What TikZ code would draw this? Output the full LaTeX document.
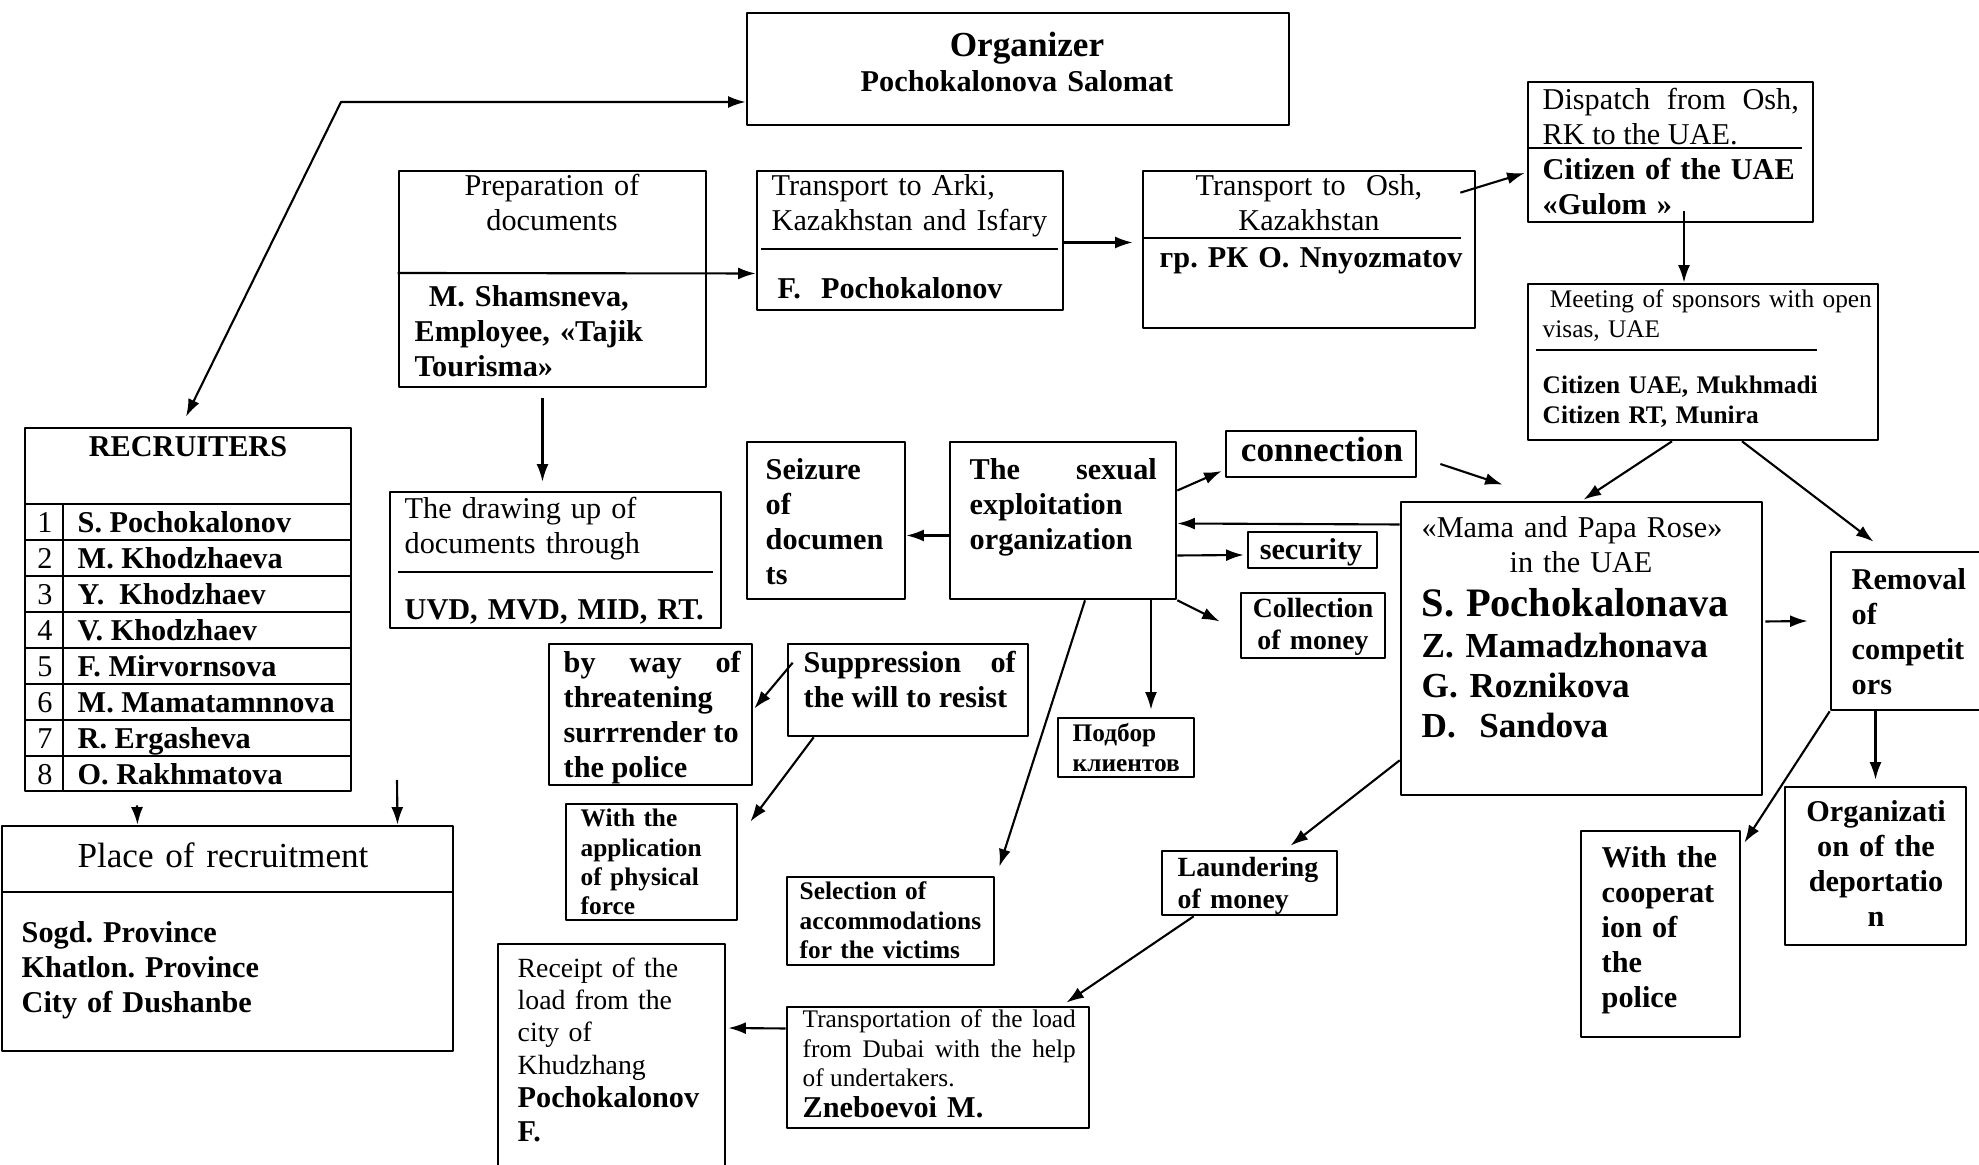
\documentclass[tikz,border=0pt]{standalone}
\usepackage{fontspec}
\setmainfont{Liberation Serif}
\usetikzlibrary{arrows.meta,calc,fit}
\frenchspacing
\newcommand\sTen{\fontsize{7.2}{8.3}\selectfont}
\newcommand\sEl{\fontsize{7.9}{9.1}\selectfont}
\newcommand\sTw{\fontsize{8.6}{9.9}\selectfont}
\newcommand\sFt{\fontsize{10}{11.4}\selectfont}
\newcommand\sSx{\fontsize{11.5}{13.2}\selectfont}
\tikzset{
	box/.style={draw, line width=0.75pt, inner sep=0pt},
	txt/.style={anchor=base west, inner sep=0pt, align=left},
	ctxt/.style={anchor=base, inner sep=0pt, align=center},
	jtxt/.style={anchor=base west, inner sep=0pt, align=justify},
	link/.style={->, line width=0.6pt},
}
\begin{document}
\begin{tikzpicture}[x=0.01cm, y=-0.01cm, >={Latex[length=5pt,width=3.4pt]}, font=\sTw, line join=round]
		\useasboundingbox (0,0) rectangle (1979,1165);
		% boxes
		\node[box, fit={(747,13) (1289,125)}] (org) {};
		\node[box, fit={(399,171) (706,387)}] (prep) {};
		\node[box, fit={(757,171) (1063,310)}] (arki) {};
		\node[box, fit={(1143,171) (1475,328)}] (osh) {};
		\node[box, fit={(1528,82) (1813,222)}] (disp) {};
		\node[box, fit={(1528,284) (1878,440)}] (meet) {};
		\node[box, fit={(25,428) (351,791)}] (rec) {};
		\node[box, fit={(2,826) (453,1051)}] (place) {};
		\node[box, fit={(390,492) (721,628)}] (drw) {};
		\node[box, fit={(747,442) (905,599)}] (seiz) {};
		\node[box, fit={(950,442) (1176,599)}] (sex) {};
		\node[box, fit={(1226,431) (1416,477)}] (conn) {};
		\node[box, fit={(1248,532) (1377,568)}] (sec) {};
		\node[box, fit={(1241,593) (1385,658)}] (coll) {};
		\node[box, fit={(1401,502) (1762,795)}] (mama) {};
		\node[box, fit={(1831,552) (1990,710)}] (rem) {};
		\node[box, fit={(1785,787) (1966,945)}] (dep) {};
		\node[box, fit={(1581,831) (1740,1037)}] (coop) {};
		\node[box, fit={(1162,851) (1337,915)}] (laund) {};
		\node[box, fit={(1058,718) (1194,777)}] (podb) {};
		\node[box, fit={(787,877) (994,965)}] (sel) {};
		\node[box, fit={(549,644) (752,785)}] (way) {};
		\node[box, fit={(788,644) (1028,736)}] (supp) {};
		\node[box, fit={(566,804) (737,920)}] (appl) {};
		\node[box, fit={(498,944) (725,1180)}] (rcpt) {};
		\node[box, fit={(787,1007) (1089,1128)}] (trans) {};
		% dividers
		\draw[line width=0.7pt] (761,249) -- (1058,249) (1143,238) -- (1461,238) (1528,148) -- (1802,148)
			(1536,350) -- (1817,350) (398,572) -- (713,572) (2,892) -- (453,892) (63,504) -- (63,791);
		% texts
		\node[ctxt, text width=4cm, font=\sFt\bfseries] (org-t) at (1027,57) {Organizer};
		\node[ctxt, text width=4cm, font=\sTw\bfseries] (org-n) at (1017,92) {Pochokalonova Salomat};
		\node[ctxt, text width=2.8cm] (prep-t) at (552,196) {Preparation of\\documents};
		\node[txt, text width=2.8cm, font=\sTw\bfseries] (prep-n) at (414,307) {\hspace*{4pt}M. Shamsneva,\\Employee, «Tajik\\Tourisma»};
		\node[txt, text width=2.9cm] (arki-t) at (771,196) {Transport to Arki,\\Kazakhstan and Isfary};
		\node[txt, text width=2.9cm, font=\sTw\bfseries] (arki-n) at (777,299) {F.\ \ Pochokalonov};
		\node[ctxt, text width=3.1cm] (osh-t) at (1309,196) {Transport to\ \ Osh,\\Kazakhstan};
		\node[txt, text width=3.1cm, font=\sTw\bfseries] (osh-n) at (1159,268) {гр. РК О. Nnyozmatov};
		\node[jtxt, text width=2.56cm] (disp-t) at (1542,110) {Dispatch from Osh,\linebreak RK to the UAE.};
		\node[txt, text width=2.6cm, font=\sTw\bfseries] (disp-n) at (1542,180) {Citizen of the UAE\\«Gulom »};
		\node[txt, text width=3.3cm, font=\sTen] (meet-t) at (1542,308) {\hspace*{2pt}Meeting of sponsors with open\\visas, UAE};
		\node[txt, text width=3.3cm, font=\sTen\bfseries] (meet-n) at (1542,394) {Citizen UAE, Mukhmadi\\Citizen RT, Munira};
		\node[ctxt, text width=3cm, font=\sTw\bfseries] (rec-t) at (188,457) {RECRUITERS};
		\foreach \i/\nm in {1/S. Pochokalonov, 2/M. Khodzhaeva, 3/Y.\ \ Khodzhaev, 4/V. Khodzhaev, 5/F. Mirvornsova, 6/M. Mamatamnnova, 7/R. Ergasheva, 8/O. Rakhmatova} {
			\draw[line width=0.7pt] (25,{468+36*\i}) -- (351,{468+36*\i});
			\node[ctxt] (rec-n\i) at (45,{497+36*\i}) {\i};
			\node[txt, font=\sTw\bfseries] (rec-\i) at (77,{497+36*\i}) {\nm};
		}
		\node[ctxt, text width=4cm, font=\sFt] (place-t) at (223,868) {Place of recruitment};
		\node[txt, text width=4cm, font=\sTw\bfseries] (place-n) at (21,943) {Sogd. Province\\Khatlon. Province\\City of Dushanbe};
		\node[txt, text width=3.2cm] (drw-t) at (404,519) {The drawing up of\\documents through};
		\node[txt, text width=3.2cm, font=\sTw\bfseries] (drw-n) at (404,620) {UVD, MVD, MID, RT.};
		\node[txt, text width=1.4cm, font=\sTw\bfseries] (seiz-t) at (765,480) {Seizure\\of\\documen\\ts};
		\node[jtxt, text width=1.87cm, font=\sTw\bfseries] (sex-t) at (969,480) {The sexual\linebreak exploitation\\organization};
		\node[ctxt, text width=1.8cm, font=\sFt\bfseries] (conn-t) at (1322,462) {connection};
		\node[ctxt, text width=1.2cm, font=\sTw\bfseries] (sec-t) at (1311,560) {security};
		\node[ctxt, text width=1.4cm, font=\sEl\bfseries] (coll-t) at (1313,618) {Collection\\of money};
		\node[txt, text width=3.3cm] (mama-t) at (1421,538) {«Mama and Papa Rose»};
		\node[ctxt, text width=3.3cm] (mama-u) at (1581,573) {in the UAE};
		\node[txt, text width=3.3cm, font=\sFt\bfseries] (mama-n) at (1421,617) {\sSx S. Pochokalonava\\\sFt Z. Mamadzhonava\\G. Roznikova\\D.\ \ Sandova};
		\node[txt, text width=1.3cm, font=\sTw\bfseries] (rem-t) at (1851,590) {Removal\\of\\competit\\ors};
		\node[ctxt, text width=1.7cm, font=\sTw\bfseries] (dep-t) at (1876,822) {Organizati\\on of the\\deportatio\\n};
		\node[txt, text width=1.3cm, font=\sTw\bfseries] (coop-t) at (1601,868) {With the\\cooperat\\ion of\\the\\police};
		\node[txt, text width=1.6cm, font=\sEl\bfseries] (laund-t) at (1177,877) {Laundering\\of money};
		\node[txt, text width=1.3cm, font=\sTen\bfseries] (podb-t) at (1072,742) {Подбор\\клиентов};
		\node[txt, text width=1.9cm, font=\sTen\bfseries] (sel-t) at (799,900) {Selection of\\accommodations\\for the victims};
		\node[jtxt, text width=1.77cm, font=\sTw\bfseries] (way-t) at (563,673) {by way of\linebreak threatening\\surrrender to\\the police};
		\node[jtxt, text width=2.12cm, font=\sTw\bfseries] (supp-t) at (803,673) {Suppression of\linebreak the will to resist};
		\node[txt, text width=1.5cm, font=\sTen\bfseries] (appl-t) at (580,827) {With the\\application\\of physical\\force};
		\node[txt, text width=2cm, font=\sEl] (rcpt-t) at (517,978) {Receipt of the\\load from the\\city of\\Khudzhang};
		\node[txt, text width=2cm, font=\sTw\bfseries] (rcpt-n) at (517,1107) {Pochokalonov\\F.};
		\node[jtxt, text width=2.73cm, font=\sTen] (trans-t) at (802,1028) {Transportation of the load\linebreak from Dubai with the help\linebreak of undertakers.};
		\node[txt, text width=2.73cm, font=\sTw\bfseries] (trans-n) at (802,1118) {Zneboevoi M.};
		% connectors
		\coordinate (bend) at (341,102);
		\coordinate (rfree) at (397,780);
		\draw[link, <->] ($(rec.north)+(-2,-10)$) -- (bend) -- ($(org.west)+(0,33)$);
		\draw[link] ($(prep.west)+(0,-6)$) -- ($(arki.west)+(0,33)$);
		\draw[link] ($(arki.east)+(0,2)$) -- ($(osh.west)+(-9,-7)$);
		\draw[link] ($(osh.north east)+(-16,23)$) -- ($(disp.west)+(-2,21)$);
		\draw[link] ($(disp.south)+(13.5,-12)$) -- ($(meet.north)+(-19,0)$);
		\draw[link] ($(meet.south)+(-31,0)$) -- ($(mama.north)+(2,-1)$);
		\draw[link] ($(meet.south)+(39,0)$) -- ($(rem.north)+(-37,-9)$);
		\draw[link] ($(conn.east)+(23,10)$) -- ($(mama.north west)+(103,-16)$);
		\draw[link] ($(mama.west)+(0,-124)$) -- ($(sex.east)+(0,3)$);
		\draw[link] ($(sex.east)+(0,-30)$) -- ($(conn.west)+(-3,17)$);
		\draw[link] ($(sex.east)+(0,35)$) -- ($(sec.west)+(-3,5)$);
		\draw[link] (sex.south east) -- ($(coll.west)+(-20,-4)$);
		\draw[link] ($(sex.west)+(0,15)$) -- ($(seiz.east)+(0,15)$);
		\draw[link] ($(sex.south)+(88,0)$) -- ($(podb.north)+(25,-7)$);
		\draw[link] ($(sex.south)+(22,0)$) -- ($(sel.north east)+(4,-9)$);
		\draw[link] ($(supp.north west)+(6,20)$) -- ($(way.east)+(1,-6)$);
		\draw[link] ($(supp.south west)+(27,0)$) -- ($(appl.north east)+(12,19)$);
		\draw[link] ($(prep.south)+(-10,10)$) -- ($(drw.north)+(-13,-9)$);
		\draw[link] ($(mama.east)+(2,-27)$) -- ($(rem.west)+(-22,-10)$);
		\draw[link] ($(mama.south west)+(0,-36)$) -- ($(laund.north)+(41,-4)$);
		\draw[link] ($(rem.south)+(-35,0)$) -- ($(dep.north)+(0,-6)$);
		\draw[link] (rem.south west) -- ($(coop.north east)+(3,13)$);
		\draw[link] ($(laund.south west)+(33,0)$) -- ($(trans.north east)+(-24,-3)$);
		\draw[link] ($(trans.west)+(0,-39)$) -- ($(rcpt.east)+(2,-34)$);
		\draw[link] ($(rec.south)+(-51,13)$) -- ($(place.north)+(-90,0)$);
		\draw[link] (rfree) -- ($(place.north)+(170,0)$);
\end{tikzpicture}
\end{document}
